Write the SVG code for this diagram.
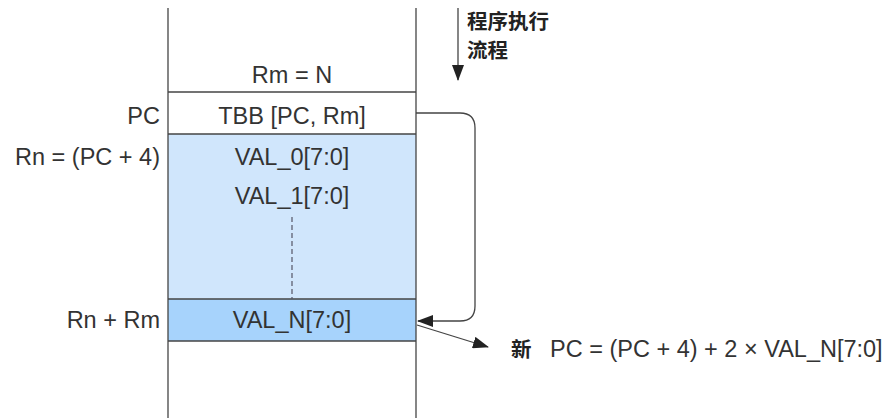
<svg xmlns="http://www.w3.org/2000/svg" width="889" height="418" viewBox="0 0 889 418">
<style>
.t{font-family:"Liberation Sans",Arial,sans-serif;font-size:23.5px;fill:#333}
.c{text-anchor:middle}
.r{text-anchor:end}
.zh{font-family:"Noto Sans CJK SC",sans-serif;font-size:20.5px;font-weight:bold;fill:#222}
.ln{stroke:#444;stroke-width:1.3;fill:none}
</style>
<defs>
<marker id="ah2" markerWidth="16" markerHeight="12" refX="15" refY="6" orient="auto" markerUnits="userSpaceOnUse"><path d="M0,0 L16,6 L0,12 Z" fill="#222"/></marker>
</defs>
<rect width="889" height="418" fill="#fff"/>
<g id="memory">
<rect x="168" y="134" width="248" height="165" fill="#d0e6fc"/>
<rect x="168" y="299" width="248" height="42" fill="#a7d3fc"/>
<line class="ln" x1="168" y1="8" x2="168" y2="418"/>
<line class="ln" x1="416" y1="8" x2="416" y2="418"/>
<line class="ln" x1="168" y1="92" x2="416" y2="92"/>
<line class="ln" x1="168" y1="134" x2="416" y2="134"/>
<line class="ln" x1="168" y1="299" x2="416" y2="299"/>
<line class="ln" x1="168" y1="341" x2="416" y2="341"/>
<line x1="292" y1="217" x2="292" y2="299" stroke="#556" stroke-width="1.2" stroke-dasharray="5,3"/>
</g>
<g id="row-rm"><text class="t c" x="292" y="83">Rm = N</text></g>
<g id="row-tbb"><text class="t c" x="292" y="124">TBB [PC, Rm]</text><text class="t r" x="160" y="124">PC</text></g>
<g id="row-val0"><text class="t c" x="292" y="165">VAL_0[7:0]</text><text class="t r" x="160" y="165">Rn = (PC + 4)</text></g>
<g id="row-val1"><text class="t c" x="292" y="204">VAL_1[7:0]</text></g>
<g id="row-valn"><text class="t c" x="292" y="328">VAL_N[7:0]</text><text class="t r" x="160" y="328">Rn + Rm</text></g>
<g id="flow-label"><text class="zh" x="467" y="29">程序执行</text><text class="zh" x="467" y="58">流程</text></g>
<g id="result"><text class="zh" x="511" y="357">新</text><text class="t" x="550" y="357">PC = (PC + 4) + 2 × VAL_N[7:0]</text></g>
<g id="connectors">
<line class="ln" x1="458" y1="8" x2="458" y2="80" marker-end="url(#ah2)"/>
<path class="ln" d="M416,113 H460 Q475,113 475,128 V306 Q475,321 460,321 H418" marker-end="url(#ah2)"/>
<line class="ln" x1="417" y1="325" x2="488" y2="347" marker-end="url(#ah2)"/>
</g>
</svg>
